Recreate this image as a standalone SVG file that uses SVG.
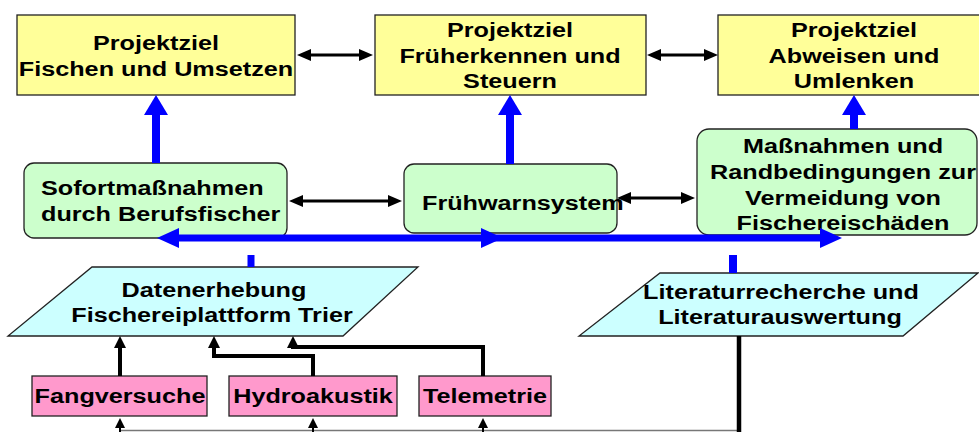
<svg xmlns="http://www.w3.org/2000/svg" width="979" height="432" viewBox="0 0 979 432">
<style>
.t{font-family:"Liberation Sans",Arial,sans-serif;font-weight:bold;font-size:21px;fill:#000;text-anchor:middle}
.l{text-anchor:start}
.y{fill:#ffff99;stroke:#222;stroke-width:1.3}
.g{fill:#ccffcc;stroke:#222;stroke-width:1.3}
.c{fill:#ccffff;stroke:#222;stroke-width:1.3}
.p{fill:#ff99cc;stroke:#222;stroke-width:1.3}
.bl{fill:none;stroke:#0000ff}
.k{fill:none;stroke:#000}
</style>
<defs>
<marker id="bh" markerUnits="userSpaceOnUse" markerWidth="22" markerHeight="20" refX="7" refY="10" orient="auto-start-reverse"><path d="M0,0 L22,10 L0,20 z" fill="#0000ff"/></marker>
<marker id="bu" markerUnits="userSpaceOnUse" markerWidth="20" markerHeight="24" refX="6" refY="12" orient="auto"><path d="M0,0 L20,12 L0,24 z" fill="#0000ff"/></marker>
<marker id="ka" markerUnits="userSpaceOnUse" markerWidth="14" markerHeight="12" refX="5" refY="6" orient="auto-start-reverse"><path d="M0,0 L14,6 L0,12 z" fill="#000"/></marker>
<marker id="kb" markerUnits="userSpaceOnUse" markerWidth="12" markerHeight="12" refX="5" refY="6" orient="auto"><path d="M0,0 L12,6 L0,12 z" fill="#000"/></marker>
<marker id="kc" markerUnits="userSpaceOnUse" markerWidth="10" markerHeight="10" refX="3" refY="5" orient="auto"><path d="M0,0 L10,5 L0,10 z" fill="#000"/></marker>
</defs>

<g id="ziel1">
<rect class="y" x="17" y="15" width="278" height="80"/>
<text class="t" transform="matrix(1.2 0 0 1 156 50)">Projektziel</text>
<text class="t" transform="matrix(1.2 0 0 1 156 76)">Fischen und Umsetzen</text>
</g>
<g id="ziel2">
<rect class="y" x="375" y="15" width="271" height="80"/>
<text class="t" transform="matrix(1.2 0 0 1 510 37)">Projektziel</text>
<text class="t" transform="matrix(1.2 0 0 1 510 63)">Früherkennen und</text>
<text class="t" transform="matrix(1.2 0 0 1 510 88)">Steuern</text>
</g>
<g id="ziel3">
<rect class="y" x="718" y="15" width="262" height="80"/>
<text class="t" transform="matrix(1.2 0 0 1 854 37)">Projektziel</text>
<text class="t" transform="matrix(1.2 0 0 1 854 63)">Abweisen und</text>
<text class="t" transform="matrix(1.2 0 0 1 854 88)">Umlenken</text>
</g>

<g id="sofort">
<rect class="g" x="24" y="163" width="263" height="75" rx="10"/>
<text class="t l" transform="matrix(1.2 0 0 1 41 195)">Sofortmaßnahmen</text>
<text class="t l" transform="matrix(1.2 0 0 1 41 221)">durch Berufsfischer</text>
</g>
<g id="fruehwarn">
<rect class="g" x="404" y="164" width="213" height="69" rx="10"/>
<text class="t l" transform="matrix(1.2 0 0 1 422 210)">Frühwarnsystem</text>
</g>
<g id="massnahmen">
<rect class="g" x="697" y="129" width="280" height="106" rx="12"/>
<text class="t" transform="matrix(1.2 0 0 1 843 153)">Maßnahmen und</text>
<text class="t" transform="matrix(1.2 0 0 1 843 179)">Randbedingungen zur</text>
<text class="t" transform="matrix(1.2 0 0 1 843 205)">Vermeidung von</text>
<text class="t" transform="matrix(1.2 0 0 1 843 230)">Fischereischäden</text>
</g>

<g id="datenerhebung">
<polygon class="c" points="92,267 418,267 343,336 8,336"/>
<text class="t" transform="matrix(1.2 0 0 1 214 297)">Datenerhebung</text>
<text class="t" transform="matrix(1.2 0 0 1 212 322)">Fischereiplattform Trier</text>
</g>
<g id="literatur">
<polygon class="c" points="660,273 978,273 903,336 579,336"/>
<text class="t" transform="matrix(1.2 0 0 1 781 299)">Literaturrecherche und</text>
<text class="t" transform="matrix(1.2 0 0 1 780 324)">Literaturauswertung</text>
</g>

<g id="fangversuche">
<rect class="p" x="32" y="376" width="175" height="40"/>
<text class="t" transform="matrix(1.2 0 0 1 120 403)">Fangversuche</text>
</g>
<g id="hydroakustik">
<rect class="p" x="229" y="376" width="168" height="40"/>
<text class="t" transform="matrix(1.2 0 0 1 313 403)">Hydroakustik</text>
</g>
<g id="telemetrie">
<rect class="p" x="419" y="376" width="132" height="40"/>
<text class="t" transform="matrix(1.2 0 0 1 485 403)">Telemetrie</text>
</g>

<g id="connectors">
<line class="k" x1="306" y1="55" x2="364" y2="55" stroke-width="3" marker-start="url(#ka)" marker-end="url(#ka)"/>
<line class="k" x1="656" y1="55" x2="709" y2="55" stroke-width="3" marker-start="url(#ka)" marker-end="url(#ka)"/>
<line class="k" x1="298" y1="201" x2="393" y2="201" stroke-width="3" marker-start="url(#ka)" marker-end="url(#ka)"/>
<line class="k" x1="626" y1="198" x2="686" y2="198" stroke-width="3" marker-start="url(#ka)" marker-end="url(#ka)"/>
<line class="bl" x1="156" y1="163" x2="156" y2="109" stroke-width="8" marker-end="url(#bu)"/>
<line class="bl" x1="510" y1="164" x2="510" y2="109" stroke-width="8" marker-end="url(#bu)"/>
<line class="bl" x1="854" y1="129" x2="854" y2="109" stroke-width="8" marker-end="url(#bu)"/>
<path class="bl" d="M172 238 L488 238 L827 238" stroke-width="7" marker-start="url(#bh)" marker-mid="url(#bh)" marker-end="url(#bh)"/>
<line class="bl" x1="251" y1="255" x2="251" y2="267" stroke-width="7"/>
<line class="bl" x1="733" y1="255" x2="733" y2="273" stroke-width="8"/>
<path class="k" d="M120 376 V343" stroke-width="4" marker-end="url(#kb)"/>
<path class="k" d="M313 376 V356 H214 V343" stroke-width="4" marker-end="url(#kb)"/>
<path class="k" d="M483 376 V347 H293 V343" stroke-width="4" marker-end="url(#kb)"/>
<line x1="120" y1="430.5" x2="739" y2="430.5" stroke="#777" stroke-width="1.5"/>
<line class="k" x1="739" y1="336" x2="739" y2="432" stroke-width="4.5"/>
<path class="k" d="M120 432 V425" stroke-width="2" marker-end="url(#kc)"/>
<path class="k" d="M313 432 V425" stroke-width="2" marker-end="url(#kc)"/>
<path class="k" d="M483 432 V425" stroke-width="2" marker-end="url(#kc)"/>
</g>
</svg>
